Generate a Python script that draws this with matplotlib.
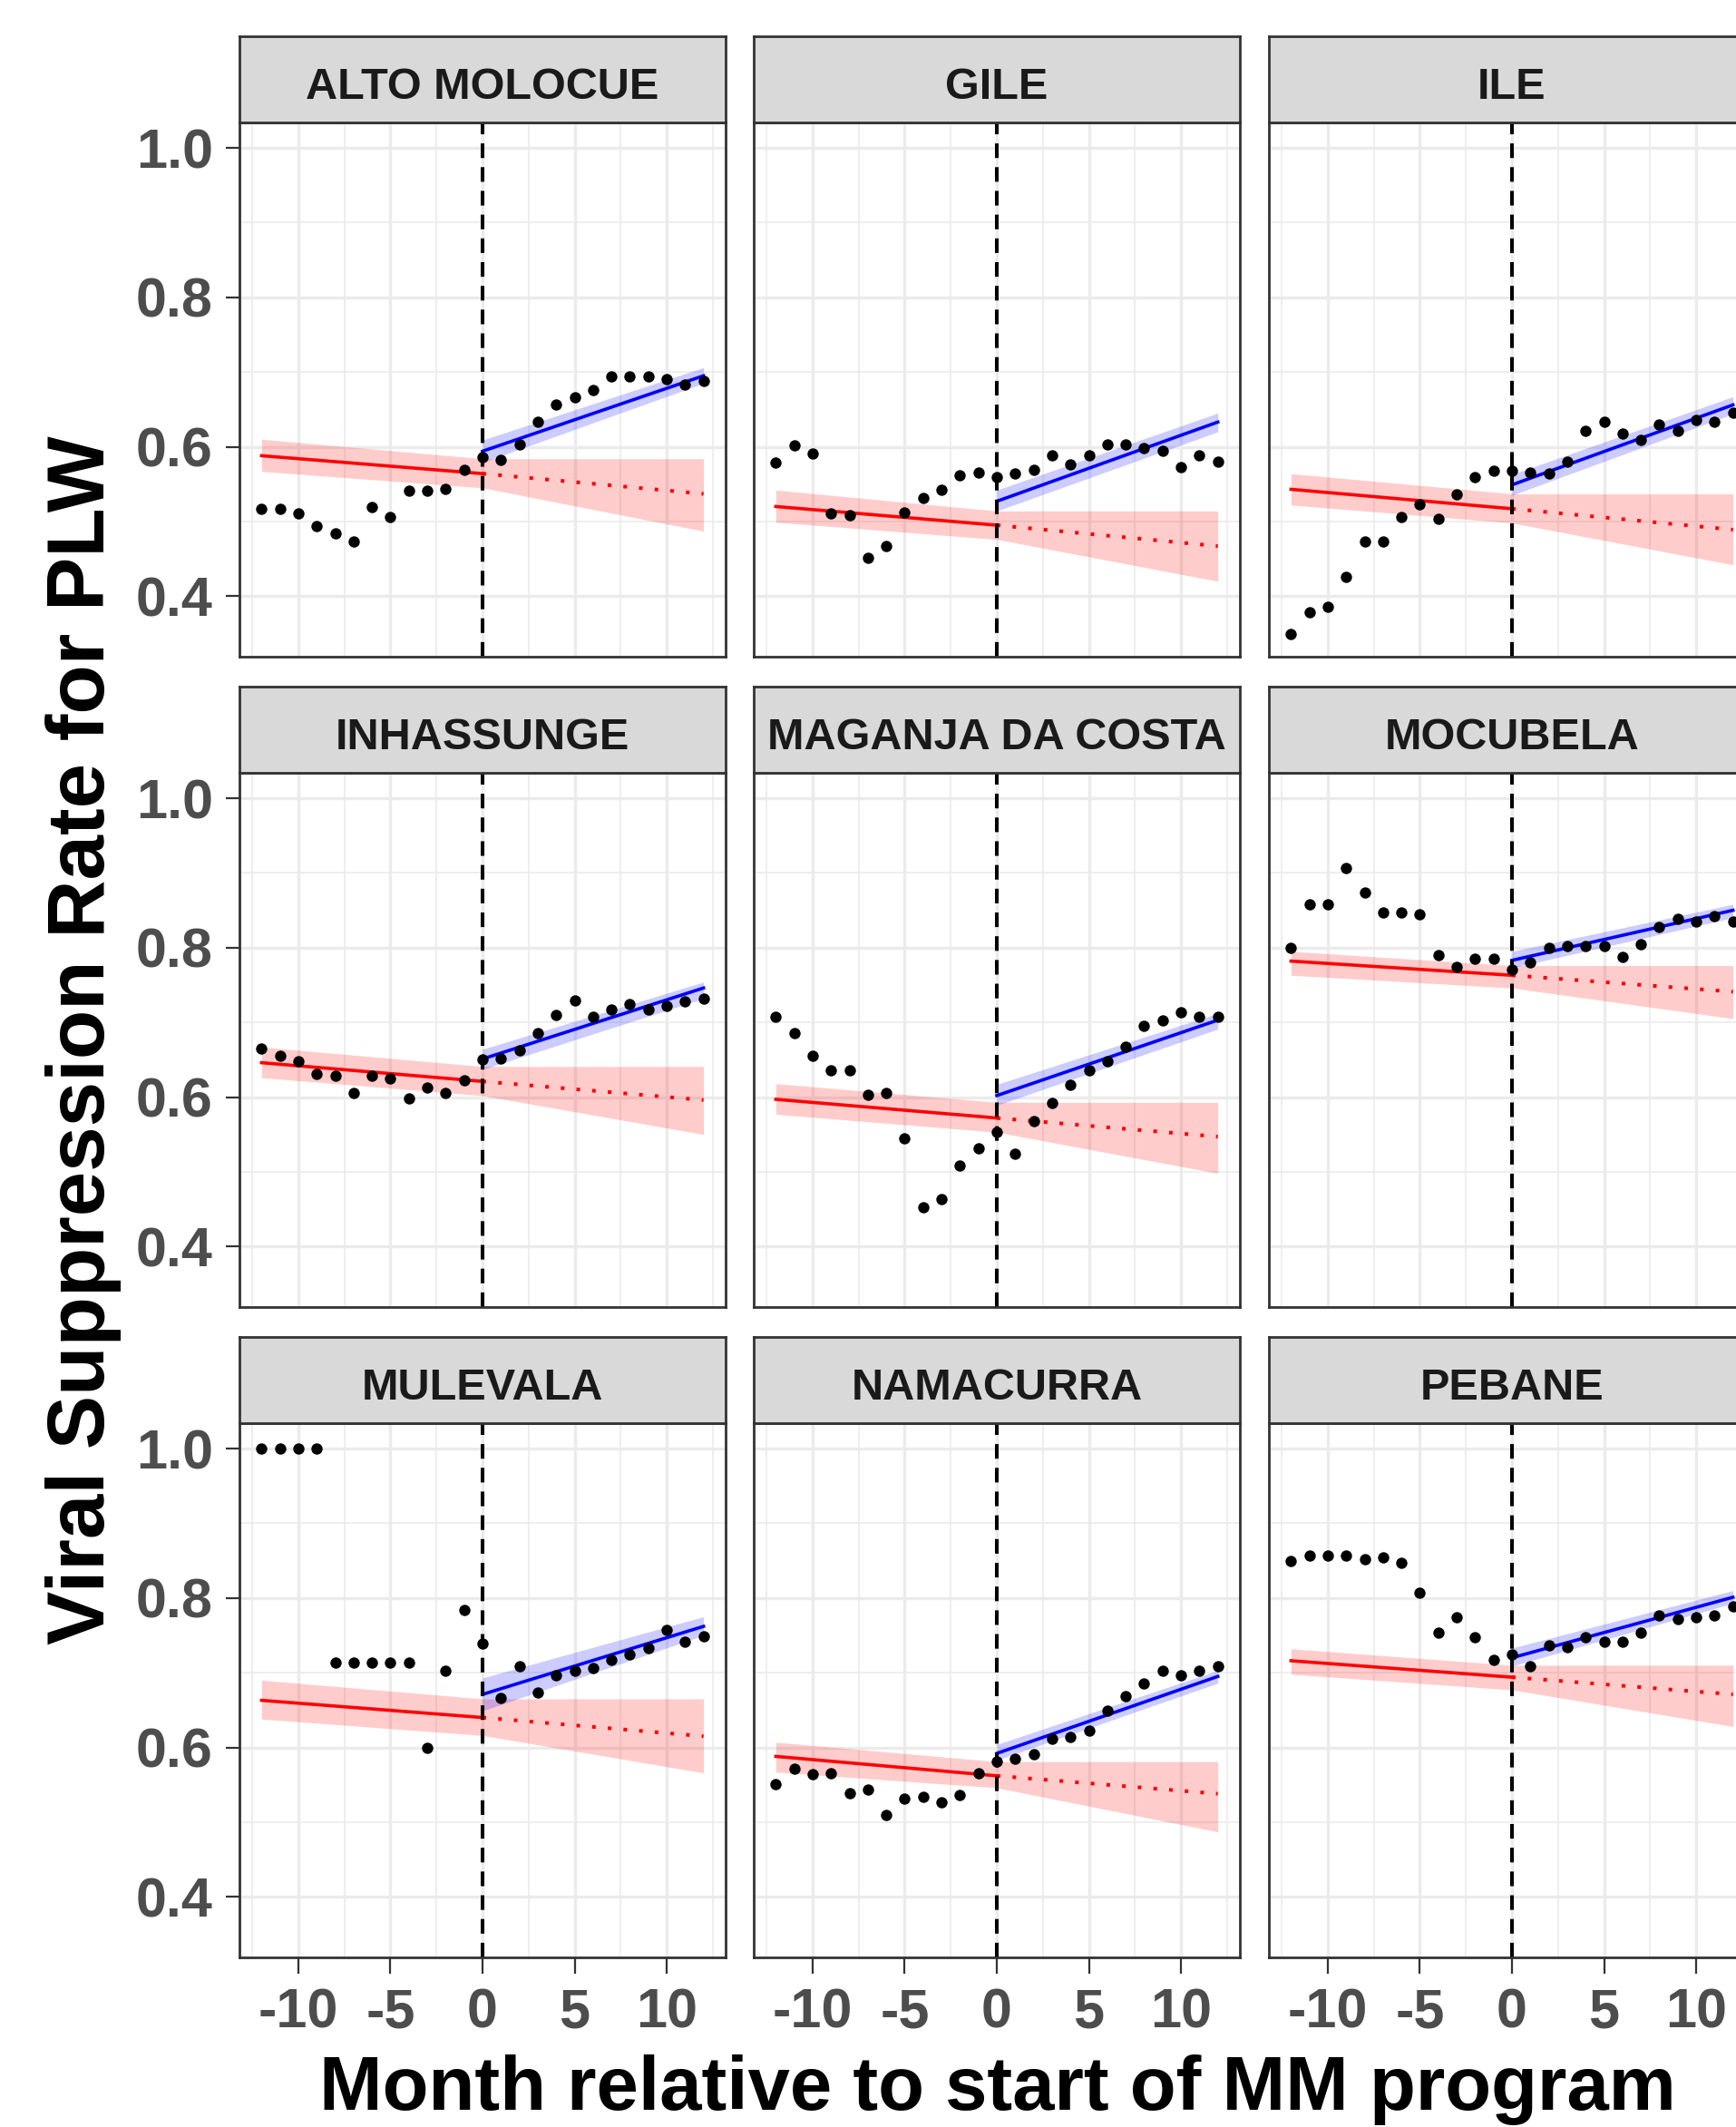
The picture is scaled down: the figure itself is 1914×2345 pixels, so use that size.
import matplotlib
matplotlib.use("Agg")
import matplotlib.pyplot as plt

plt.rcParams['font.family'] = ['Liberation Sans', 'DejaVu Sans']

# ---------------------------------------------------------------- data
months = list(range(-12, 13))
districts = ["ALTO MOLOCUE", "GILE", "ILE",
             "INHASSUNGE", "MAGANJA DA COSTA", "MOCUBELA",
             "MULEVALA", "NAMACURRA", "PEBANE"]

# observed monthly suppression rate, months -12 .. 12
rate_alto_molocue = [0.517, 0.517, 0.511, 0.494, 0.484, 0.473, 0.519, 0.506, 0.541, 0.541, 0.544, 0.569,
                     0.586, 0.583, 0.603, 0.634, 0.656, 0.666, 0.676, 0.694, 0.694, 0.694, 0.691, 0.683, 0.688]
rate_gile = [0.579, 0.602, 0.591, 0.511, 0.508, 0.451, 0.467, 0.512, 0.531, 0.542, 0.562, 0.566,
             0.559, 0.564, 0.569, 0.589, 0.576, 0.589, 0.603, 0.603, 0.598, 0.594, 0.573, 0.589, 0.580]
rate_ile = [0.349, 0.379, 0.386, 0.426, 0.473, 0.473, 0.506, 0.523, 0.503, 0.536, 0.559, 0.568,
            0.568, 0.565, 0.564, 0.580, 0.621, 0.633, 0.618, 0.609, 0.630, 0.621, 0.636, 0.633, 0.645]
rate_inhassunge = [0.665, 0.655, 0.648, 0.631, 0.628, 0.605, 0.628, 0.625, 0.598, 0.613, 0.605, 0.623,
                   0.650, 0.652, 0.663, 0.685, 0.710, 0.729, 0.708, 0.717, 0.725, 0.717, 0.722, 0.728, 0.732]
rate_maganja_da_costa = [0.708, 0.685, 0.655, 0.636, 0.636, 0.603, 0.606, 0.545, 0.453, 0.464, 0.508, 0.531,
                         0.553, 0.524, 0.568, 0.592, 0.617, 0.636, 0.648, 0.668, 0.695, 0.702, 0.713, 0.708, 0.708]
rate_mocubela = [0.800, 0.858, 0.858, 0.907, 0.874, 0.847, 0.847, 0.845, 0.790, 0.774, 0.785, 0.785,
                 0.770, 0.780, 0.800, 0.802, 0.802, 0.802, 0.787, 0.805, 0.828, 0.838, 0.835, 0.842, 0.835]
rate_mulevala = [1.000, 1.000, 1.000, 1.000, 0.714, 0.714, 0.714, 0.714, 0.714, 0.599, 0.703, 0.784,
                 0.739, 0.666, 0.709, 0.674, 0.696, 0.703, 0.706, 0.717, 0.724, 0.733, 0.757, 0.742, 0.749]
rate_namacurra = [0.551, 0.571, 0.564, 0.566, 0.539, 0.543, 0.509, 0.531, 0.534, 0.526, 0.536, 0.566,
                  0.581, 0.585, 0.591, 0.611, 0.614, 0.623, 0.649, 0.669, 0.686, 0.702, 0.696, 0.703, 0.709]
rate_pebane = [0.849, 0.857, 0.857, 0.857, 0.852, 0.854, 0.847, 0.807, 0.754, 0.774, 0.747, 0.717,
               0.724, 0.709, 0.737, 0.734, 0.747, 0.742, 0.742, 0.754, 0.777, 0.772, 0.774, 0.777, 0.789]

rates = [rate_alto_molocue, rate_gile, rate_ile,
         rate_inhassunge, rate_maganja_da_costa, rate_mocubela,
         rate_mulevala, rate_namacurra, rate_pebane]

# pre-period trend (month -12 and month 0) with its confidence band
pre_fit_m12 = [0.588, 0.520, 0.543, 0.646, 0.597, 0.782, 0.663, 0.588, 0.716]
pre_fit_0 = [0.564, 0.495, 0.517, 0.621, 0.572, 0.763, 0.640, 0.562, 0.694]
pre_lo_m12 = [0.567, 0.499, 0.522, 0.626, 0.577, 0.763, 0.638, 0.567, 0.698]
pre_hi_m12 = [0.610, 0.542, 0.564, 0.667, 0.618, 0.795, 0.690, 0.607, 0.732]
pre_lo_0 = [0.545, 0.476, 0.498, 0.602, 0.553, 0.746, 0.616, 0.546, 0.677]
pre_hi_0 = [0.584, 0.514, 0.537, 0.641, 0.593, 0.776, 0.665, 0.581, 0.710]

# counterfactual projection of the pre-period trend to month 12
cf_fit_12 = [0.537, 0.467, 0.489, 0.596, 0.547, 0.741, 0.615, 0.538, 0.671]
cf_lo_12 = [0.487, 0.420, 0.442, 0.550, 0.498, 0.705, 0.566, 0.487, 0.628]
cf_hi_12 = [0.584, 0.514, 0.537, 0.641, 0.593, 0.776, 0.665, 0.581, 0.710]

# post-period trend (month 0 and month 12) with its confidence band
post_fit_0 = [0.594, 0.527, 0.549, 0.651, 0.602, 0.783, 0.671, 0.592, 0.720]
post_fit_12 = [0.695, 0.633, 0.656, 0.746, 0.703, 0.850, 0.762, 0.695, 0.801]
post_lo_0 = [0.579, 0.514, 0.535, 0.637, 0.589, 0.773, 0.649, 0.583, 0.709]
post_hi_0 = [0.609, 0.542, 0.563, 0.664, 0.617, 0.795, 0.693, 0.604, 0.733]
post_lo_12 = [0.685, 0.620, 0.644, 0.732, 0.691, 0.840, 0.750, 0.686, 0.793]
post_hi_12 = [0.706, 0.645, 0.667, 0.754, 0.712, 0.858, 0.775, 0.703, 0.810]

y_ticks = [0.4, 0.6, 0.8, 1.0]
y_tick_labels = ["0.4", "0.6", "0.8", "1.0"]
x_ticks = [-10, -5, 0, 5, 10]
x_tick_labels = ["-10", "-5", "0", "5", "10"]

# ---------------------------------------------------------------- layout (pixels)
W, H = 1915, 2345
fig = plt.figure(figsize=(W / 100, H / 100), dpi=100)
fig.patch.set_facecolor("white")

col_left = [264, 831, 1399]
panel_top = [135, 852, 1569]
pw, ph = 536, 589
strip_h = 95

BORDER = "#333333"
GRID = "#EBEBEB"
TICKTXT = "#4D4D4D"


def rect(left, top, w, h):
    return [left / W, 1 - (top + h) / H, w / W, h / H]


for i, name in enumerate(districts):
    r, c = divmod(i, 3)
    ax = fig.add_axes(rect(col_left[c], panel_top[r], pw, ph))
    ax.set_xlim(-13.2, 13.2)
    ax.set_ylim(0.319, 1.034)
    ax.set_xticks(x_ticks)
    ax.set_xticks([-12.5, -7.5, -2.5, 2.5, 7.5, 12.5], minor=True)
    ax.set_yticks(y_ticks)
    ax.set_yticks([0.5, 0.7, 0.9], minor=True)
    ax.grid(which="major", color=GRID, lw=2.4, zorder=0)
    ax.grid(which="minor", color=GRID, lw=1.2, zorder=0)
    ax.set_axisbelow(True)
    for s in ax.spines.values():
        s.set_color(BORDER)
        s.set_linewidth(2.0)
        s.set_zorder(10)

    ax.tick_params(which="minor", length=0)
    ax.tick_params(axis="y", which="major", length=11, width=1.6, color=BORDER, pad=10,
                   labelsize=44, labelcolor=TICKTXT)
    ax.tick_params(axis="x", which="major", length=13, width=1.6, color=BORDER, pad=11,
                   labelsize=44, labelcolor=TICKTXT)
    if c == 0:
        ax.set_yticklabels(y_tick_labels, fontweight="bold")
    else:
        ax.tick_params(axis="y", which="major", length=0, labelleft=False)
    if r == 2:
        ax.set_xticklabels(x_tick_labels, fontweight="bold")
    else:
        ax.tick_params(axis="x", which="major", length=0, labelbottom=False)

    # bands
    ax.fill_between([-12, 0], [pre_lo_m12[i], pre_lo_0[i]], [pre_hi_m12[i], pre_hi_0[i]],
                    color="#FF0000", alpha=0.2, lw=0, zorder=2)
    ax.fill_between([0, 12], [pre_lo_0[i], cf_lo_12[i]], [pre_hi_0[i], cf_hi_12[i]],
                    color="#FF0000", alpha=0.2, lw=0, zorder=2)
    ax.fill_between([0, 12], [post_lo_0[i], post_lo_12[i]], [post_hi_0[i], post_hi_12[i]],
                    color="#0000FF", alpha=0.2, lw=0, zorder=2)

    # trend lines
    ax.plot([-12, 0], [pre_fit_m12[i], pre_fit_0[i]], color="#FF0000", lw=2.6, zorder=3)
    ax.plot([0, 12], [pre_fit_0[i], cf_fit_12[i]], color="#FF0000", lw=2.9,
            linestyle=(0, (1, 3.3)), dash_capstyle="butt", zorder=3)
    ax.plot([0, 12], [post_fit_0[i], post_fit_12[i]], color="#0000FF", lw=2.6, zorder=3)

    # programme start
    ax.axvline(0, color="black", lw=2.9, dashes=(4, 2.5), zorder=4)

    ax.scatter(months, rates[i], s=80, color="black", linewidths=0, zorder=5)

    # facet strip
    sax = fig.add_axes(rect(col_left[c], panel_top[r] - strip_h, pw, strip_h))
    sax.set_facecolor("#D9D9D9")
    sax.set_xticks([])
    sax.set_yticks([])
    for s in sax.spines.values():
        s.set_color(BORDER)
        s.set_linewidth(2.0)
    sax.text(0.5, 0.27, name, transform=sax.transAxes, ha="center", va="baseline",
             fontsize=35, fontweight="bold", color="#1A1A1A")

fig.text(1100 / W, 1 - 2326 / H, "Month relative to start of MM program",
         ha="center", va="baseline", fontsize=60, fontweight="bold", color="black")
fig.text(92 / W, 1 - 1147 / H, "Viral Suppression Rate for PLW", rotation=90,
         ha="center", va="center", fontsize=64, fontweight="bold", color="black")

fig.savefig("out.png", dpi=100, facecolor="white")
